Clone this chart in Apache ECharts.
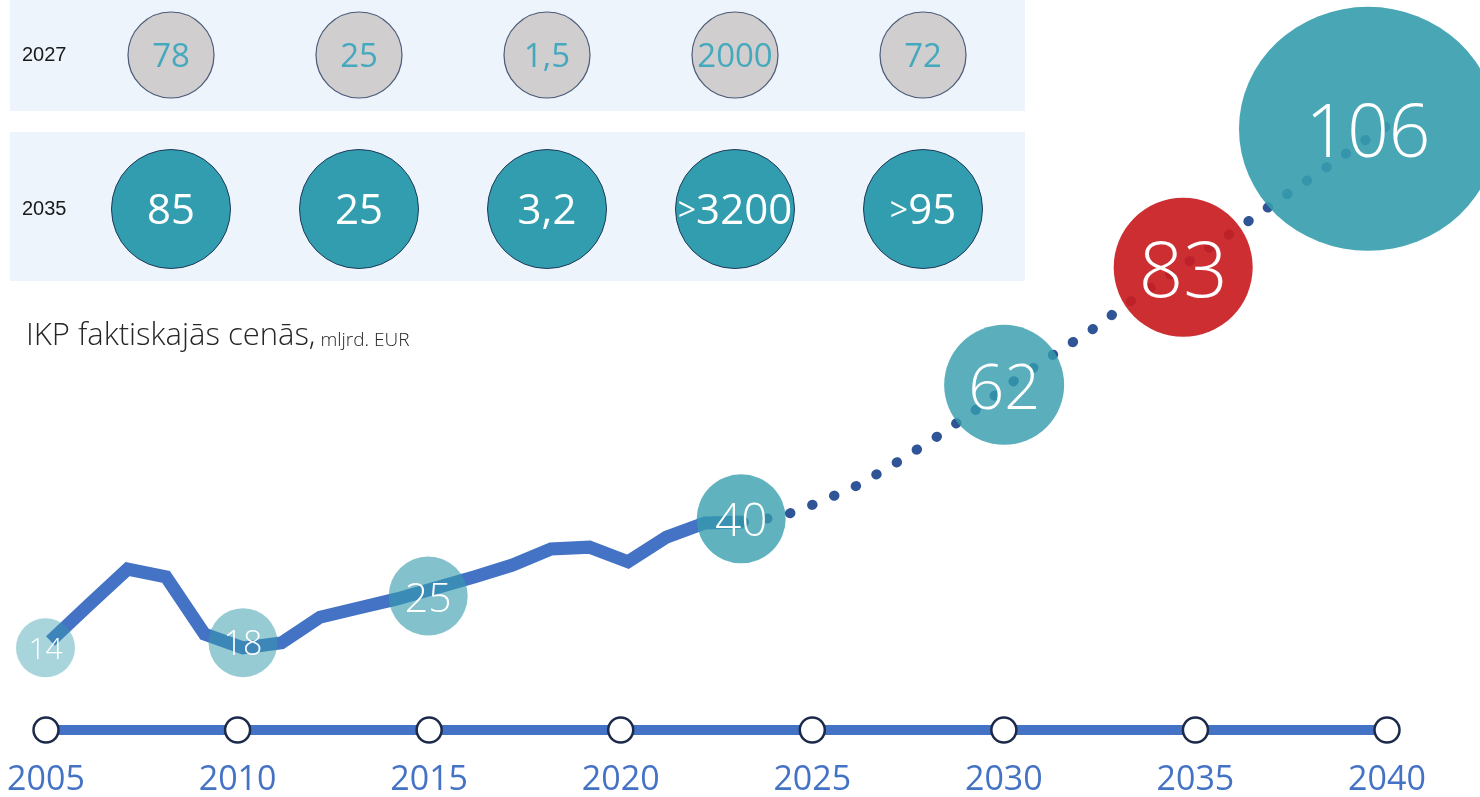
<!DOCTYPE html>
<html><head><meta charset="utf-8">
<script src="https://cdn.jsdelivr.net/npm/echarts@6/dist/echarts.min.js"></script>
<style>html,body{margin:0;padding:0;background:#fff}#c{width:1480px;height:797px}</style>
</head><body><div id="c"></div>
<script>
// ---------- DATA ----------
const actualYears = [2005,2006,2007,2008,2009,2010,2011,2012,2013,2014,2015,2016,2017,2018,2019,2020,2021,2022,2023];
const actualGdp   = [14.0,21.9,29.7,28.0,15.5,12.5,13.6,19.2,21.2,23.2,25.6,28.0,30.6,34.1,34.5,31.3,36.7,39.8,40.0];
const forecastYears = [2023,2024,2025,2026,2027,2028,2029,2030,2031,2032,2033,2034,2035,2036,2037,2038,2039,2040];
const forecastGdp   = [40.0,40.9,43.2,45.9,49.5,53.4,57.6,62.2,66.3,70.2,74.7,78.8,83.0,87.1,91.4,95.5,99.8,103.9];
const bubbleLabels = ['14','18','25','40','62','83','106'];
const bubbleYears  = [2004.87,2010.0,2014.81,2022.94,2029.77,2034.42,2039.22];
const bubbleLevels = [20.1,20.9,28.3,40.5,61.7,80.3,102.2];
const timelineYears = [2005,2010,2015,2020,2025,2030,2035,2040];
const panelColumns = ['1','2','3','4','5'];
const panelRows = ['2027','2035'];
const values2027 = ['78','25','1,5','2000','72'];
const values2035 = ['85','25','3,2','>3200','>95'];
const titleMain = 'IKP faktiskajās cenās,';
const titleUnit = 'mljrd. EUR';

// ---------- STYLE ----------
const FONT = "'Open Sans', 'Noto Sans', sans-serif";
const bubbleStyle = [
  {size:59,  color:'rgba(53,156,173,0.43)', font:30},
  {size:69,  color:'rgba(53,156,173,0.52)', font:34},
  {size:79,  color:'rgba(53,156,173,0.61)', font:41},
  {size:89,  color:'rgba(53,156,173,0.78)', font:46},
  {size:120, color:'rgba(53,156,173,0.81)', font:63},
  {size:139, color:'rgba(200,30,34,0.93)',  font:78},
  {size:[258,244], color:'rgba(53,156,173,0.90)', font:73}
];

function fmtPanel(v){
  if (v.charAt(0) === '>') return '{s|>}{n|' + v.slice(1) + '}';
  return '{n|' + v + '}';
}

const chart = echarts.init(document.getElementById('c'), null, {renderer:'canvas'});
const option = {
  animation: false,
  backgroundColor: '#ffffff',
  title: {
    left: 21, top: 307,
    text: '{a|' + titleMain + '} {b|' + titleUnit + '}',
    textStyle: {
      rich: {
        a: {fontSize: 31, fontFamily: FONT, fontWeight: 300, color: '#262626', lineHeight: 40, verticalAlign: 'bottom'},
        b: {fontSize: 19, fontFamily: FONT, fontWeight: 300, color: '#262626', lineHeight: 40, verticalAlign: 'bottom', padding: [0,0,2,0]}
      }
    }
  },
  graphic: [
    {type:'rect', z:0, shape:{x:10, y:0, width:1015, height:111}, style:{fill:'#EDF4FB'}},
    {type:'rect', z:0, shape:{x:10, y:132, width:1015, height:149}, style:{fill:'#EDF4FB'}}
  ],
  grid: [
    {left:45, right:94, top:0, height:797},
    {left:46, right:93, top:700, height:31},
    {left:77, width:940, top:55, height:154}
  ],
  xAxis: [
    {gridIndex:0, type:'value', min:2004.857, max:2039.688, show:false},
    {gridIndex:1, type:'value', min:2005, max:2040, interval:5,
      axisLine:{show:true, lineStyle:{color:'#4472C4', width:10}},
      axisTick:{show:false}, splitLine:{show:false},
      axisLabel:{color:'#4472C4', fontSize:34, fontFamily:FONT, margin:33, formatter:v=>String(v)}},
    {gridIndex:2, type:'category', data:panelColumns, show:false}
  ],
  yAxis: [
    {gridIndex:0, type:'value', min:-20.085, max:154.05, show:false},
    {gridIndex:0, type:'value', min:-3.51, max:122.59, show:false},
    {gridIndex:1, type:'value', min:0, max:1, show:false},
    {gridIndex:2, type:'category', data:panelRows, inverse:true, boundaryGap:false,
      axisLine:{show:false}, axisTick:{show:false}, splitLine:{show:false},
      axisLabel:{align:'left', margin:55, fontSize:20, fontFamily:"'Liberation Sans', Arial, sans-serif", color:'#1a1a1a'}}
  ],
  series: [
    {type:'line', xAxisIndex:0, yAxisIndex:0, z:2, silent:true, symbol:'none',
      data: actualYears.map((y,i)=>[y, actualGdp[i]]),
      lineStyle:{color:'#4472C4', width:13, cap:'butt', join:'miter'}},
    {type:'line', xAxisIndex:0, yAxisIndex:1, z:2, silent:true, symbol:'none',
      data: forecastYears.map((y,i)=>[y, forecastGdp[i]]),
      lineStyle:{color:'#2F5597', width:10, type:[0.5,23.2], cap:'round'}},
    {type:'scatter', xAxisIndex:0, yAxisIndex:1, z:4, silent:true, clip:false,
      data: bubbleLabels.map((l,i)=>({
        value:[bubbleYears[i], bubbleLevels[i]],
        symbolSize: bubbleStyle[i].size,
        itemStyle:{color: bubbleStyle[i].color, opacity:1},
        label:{show:true, position:'inside', formatter:l, color:'#ffffff', fontSize: bubbleStyle[i].font,
          fontFamily:FONT, fontWeight:300, offset:[0, Math.round(bubbleStyle[i].font*0.09)]}
      }))},
    {type:'scatter', xAxisIndex:1, yAxisIndex:2, z:5, silent:true, clip:false,
      data: timelineYears.map(y=>[y,0]), symbolSize:25,
      itemStyle:{color:'#ffffff', borderColor:'#1B2A4A', borderWidth:2.5, opacity:1}},
    {type:'scatter', xAxisIndex:2, yAxisIndex:3, z:5, silent:true, clip:false,
      data: values2027.map((v,i)=>({value:[panelColumns[i], '2027'], name:v})),
      symbolSize:86,
      itemStyle:{color:'#D0CECE', borderColor:'#4A5A78', borderWidth:1.2, opacity:1},
      label:{show:true, position:'inside', formatter:p=>fmtPanel(p.name), offset:[0,3],
        rich:{n:{color:'#45A9BE', fontSize:33, fontFamily:FONT}, s:{color:'#45A9BE', fontSize:26, fontFamily:FONT}}}},
    {type:'scatter', xAxisIndex:2, yAxisIndex:3, z:5, silent:true, clip:false,
      data: values2035.map((v,i)=>({value:[panelColumns[i], '2035'], name:v})),
      symbolSize:119,
      itemStyle:{color:'#329DAF', borderColor:'#1F3A5A', borderWidth:1, opacity:1},
      label:{show:true, position:'inside', formatter:p=>fmtPanel(p.name), offset:[0,3],
        rich:{n:{color:'#ffffff', fontSize:42, fontFamily:FONT}, s:{color:'#ffffff', fontSize:32, fontFamily:FONT}}}}
  ]
};
chart.setOption(option);
</script>
</body></html>
